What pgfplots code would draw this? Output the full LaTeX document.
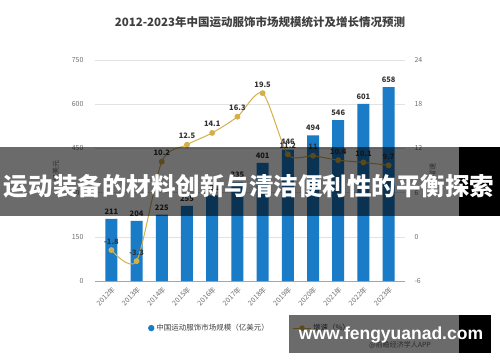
\documentclass[border=0pt]{standalone}
\usepackage{pgfplots}
\pgfplotsset{compat=1.18}
\usepackage{fontspec}
\setmainfont{Noto Sans CJK SC}
\newfontfamily\wm{Liberation Sans}
\definecolor{barblue}{HTML}{1A7BC6}
\definecolor{linegold}{HTML}{D4B04C}
\definecolor{tickgray}{HTML}{707070}
\definecolor{gridgray}{HTML}{E2E2E2}
\pgfplotsset{/pgf/number format/assume math mode=true}
\begin{document}
\begin{tikzpicture}
\path[fill=white] (0pt,0pt) rectangle (500pt,362pt);
\node[font=\bfseries\fontsize{11.5}{14}\selectfont, text=black!75] at (260pt,340pt) {2012-2023年中国运动服饰市场规模统计及增长情况预测};
\begin{axis}[
  at={(95pt,81pt)}, anchor=south west, scale only axis,
  width=310pt, height=221pt,
  xmin=-0.65, xmax=11.65, ymin=0, ymax=750,
  ytick={0,150,...,750},
  axis y line*=left, axis x line*=bottom,
  y axis line style={draw=none},
  x axis line style={draw=gray!70},
  ymajorgrids, grid style={gridgray},
  major y tick style={draw=none},
  major x tick style={draw=gray!70},
  xtick={0,...,11},
  xticklabels={2012年,2013年,2014年,2015年,2016年,2017年,2018年,2019年,2020年,2021年,2022年,2023年},
  x tick label style={rotate=45, anchor=north east, font=\fontsize{7}{8}\selectfont, text=tickgray},
  y tick label style={font=\fontsize{7}{8}\selectfont, text=tickgray, xshift=-8pt},
  ylabel={亿美元}, ylabel style={font=\fontsize{7}{8}\selectfont, text=tickgray, yshift=6pt},
  legend columns=2,
  legend style={at={(0.5,-0.213)}, anchor=center, draw=none, fill=none,
    font=\fontsize{7.5}{9}\selectfont, text=black!75,
    /tikz/every even column/.append style={column sep=22pt}},
]
\addplot[ybar, bar width=12pt, fill=barblue, draw=none,
  nodes near coords,
  every node near coord/.append style={font=\bfseries\fontsize{7.5}{9}\selectfont, text=black!80, anchor=south, yshift=1pt},
  legend image code/.code={\fill[barblue] (0.25em,0) circle (3.2pt);}]
  coordinates {(0,211) (1,204) (2,225) (3,255) (4,291) (5,335) (6,401) (7,446) (8,494) (9,546) (10,601) (11,658)};
\addlegendentry{中国运动服饰市场规模（亿美元）}
\addlegendimage{color=linegold, line width=1pt, mark=*, mark size=2.2pt}
\addlegendentry{增速（\%）}
\end{axis}
\begin{axis}[
  at={(95pt,81pt)}, anchor=south west, scale only axis,
  width=310pt, height=221pt,
  xmin=-0.65, xmax=11.65, ymin=-6, ymax=24,
  ytick={-6,0,...,24},
  axis y line*=right, axis x line=none,
  y axis line style={draw=none},
  major y tick style={draw=none},
  y tick label style={font=\fontsize{7}{8}\selectfont, text=tickgray, xshift=6pt},
  ylabel={增速}, ylabel style={font=\fontsize{7}{8}\selectfont, text=tickgray},
]
\addplot[color=linegold, line width=1pt, smooth, tension=0.45, mark=*, mark size=2.4pt,
  mark options={fill=linegold, draw=linegold},
  nodes near coords,
  every node near coord/.append style={font=\bfseries\fontsize{7.5}{9}\selectfont, text=black!80, anchor=south, yshift=2pt}]
  coordinates {(0,-1.8) (1,-3.3) (2,10.2) (3,12.5) (4,14.1) (5,16.3) (6,19.5) (7,11.2) (8,11) (9,10.4) (10,10.1) (11,9.7)};
\end{axis}
\fill[black, opacity=0.58] (0pt,146pt) rectangle (459pt,215pt);
\fill[black] (459pt,146pt) rectangle (500pt,215pt);
\node[text=white, font=\bfseries\fontsize{24.5}{28}\selectfont] at (249pt,176pt) {运动装备的材料创新与清洁便利性的平衡探索};
\node[text=black!60, font=\fontsize{7}{8}\selectfont] at (400pt,17pt) {@前瞻经济学人APP};
\fill[black, opacity=0.58] (289pt,9pt) rectangle (459pt,47pt);
\fill[black] (459pt,9pt) rectangle (491pt,47pt);
\node[text=white, font=\wm\bfseries\fontsize{17.5}{20}\selectfont] at (391pt,27pt) {www.fengyuanad.com};
\end{tikzpicture}
\end{document}
